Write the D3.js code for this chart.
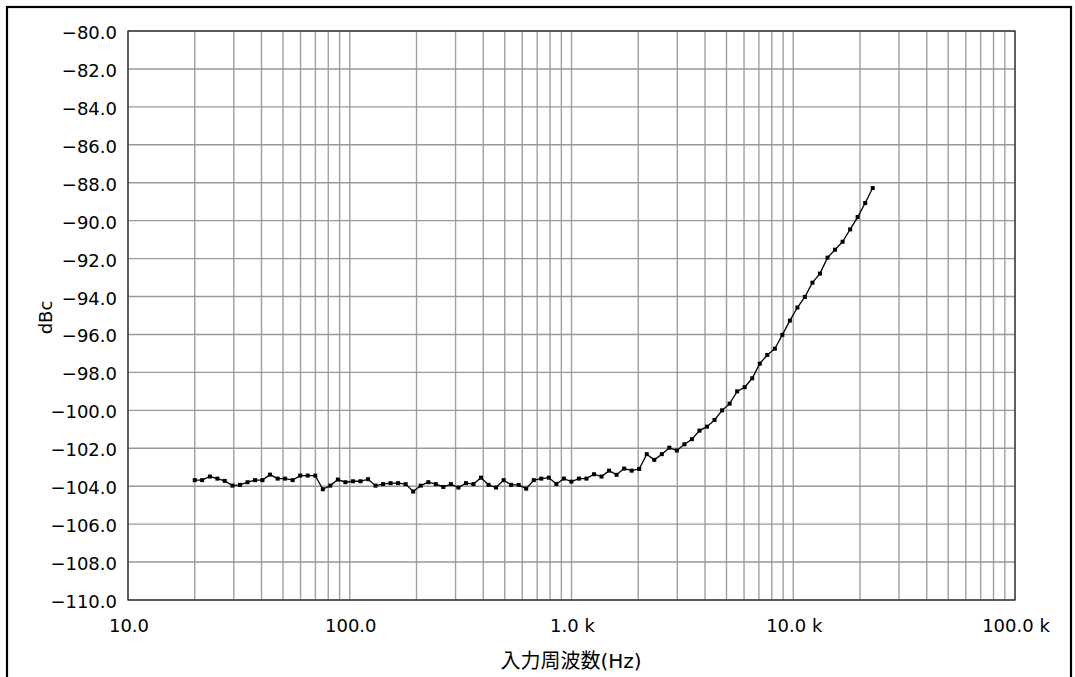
<!DOCTYPE html>
<html>
<head>
<meta charset="utf-8">
<script src="https://cdn.jsdelivr.net/npm/d3@7"></script>
<style>
  html, body { margin: 0; padding: 0; background: #fff; }
  svg { display: block; }
  text { font-family: "DejaVu Sans", "Noto Sans CJK JP", sans-serif; fill: #000; }
</style>
</head>
<body>
<script>
// input frequency (Hz)
const freqs = [
  20.0, 21.6, 23.4, 25.3, 27.3, 29.6, 32.0, 34.6, 37.4, 40.4,
  43.7, 47.3, 51.1, 55.3, 59.8, 64.6, 69.9, 75.6, 81.7, 88.4,
  95.6, 103.4, 111.8, 120.9, 130.7, 141.3, 152.8, 165.2, 178.7, 193.2,
  209.0, 226.0, 244.4, 264.3, 285.8, 309.0, 334.2, 361.3, 390.7, 422.5,
  457.0, 494.2, 534.4, 577.8, 624.8, 675.8, 730.7, 790.2, 854.5, 924.0,
  999, 1080, 1168, 1263, 1366, 1477, 1597, 1727, 1868, 2020,
  2184, 2362, 2554, 2762, 2986, 3230, 3493, 3777, 4084, 4416,
  4776, 5165, 5585, 6039, 6531, 7062, 7637, 8258, 8930, 9656,
  10438, 11287, 12205, 13198, 14272, 15436, 16692, 18050, 19518, 21106,
  22820
];

// dBc
const dbc = [
  -103.68, -103.68, -103.49, -103.60, -103.72, -103.97, -103.93, -103.79, -103.68, -103.68,
  -103.39, -103.60, -103.60, -103.68, -103.44, -103.44, -103.44, -104.16, -103.97, -103.65,
  -103.79, -103.74, -103.74, -103.63, -103.97, -103.89, -103.84, -103.84, -103.89, -104.28,
  -103.97, -103.79, -103.89, -104.04, -103.89, -104.07, -103.84, -103.89, -103.55, -103.93,
  -104.07, -103.68, -103.93, -103.93, -104.13, -103.68, -103.60, -103.55, -103.88, -103.60,
  -103.76, -103.60, -103.60, -103.37, -103.49, -103.18, -103.40, -103.07, -103.18, -103.09,
  -102.31, -102.61, -102.31, -101.97, -102.12, -101.79, -101.52, -101.07, -100.86, -100.51,
  -100.00, -99.65, -99.00, -98.78, -98.31, -97.54, -97.08, -96.75, -96.02, -95.27,
  -94.58, -94.02, -93.27, -92.79, -91.95, -91.53, -91.11, -90.46, -89.81, -89.07,
  -88.28
];

const xTicks = [10, 100, 1000, 10000, 100000];
const xTickLabels = ['10.0', '100.0', '1.0 k', '10.0 k', '100.0 k'];
const yTicks = [-80, -82, -84, -86, -88, -90, -92, -94, -96, -98, -100, -102, -104, -106, -108, -110];

const width = 1075;
const height = 677;
const margin = { top: 31, right: 60, bottom: 77, left: 128 };

const svg = d3.select('body').append('svg')
    .attr('width', width)
    .attr('height', height);

// outer frame
svg.append('rect')
    .attr('x', 7).attr('y', 7)
    .attr('width', 1064).attr('height', 690)
    .attr('fill', 'none')
    .attr('stroke', '#000')
    .attr('stroke-width', 2.2);

const x = d3.scaleLog()
    .domain([10, 100000])
    .range([margin.left, width - margin.right]);

const y = d3.scaleLinear()
    .domain([-110, -80])
    .range([height - margin.bottom, margin.top]);

// minor + major vertical grid
const vGrid = [];
for (let dec = 10; dec < 100000; dec *= 10) {
  for (let m = 1; m < 10; m++) vGrid.push(dec * m);
}
vGrid.push(100000);

svg.append('g')
  .selectAll('line')
  .data(vGrid)
  .enter().append('line')
    .attr('x1', d => x(d)).attr('x2', d => x(d))
    .attr('y1', y(-80)).attr('y2', y(-110))
    .attr('stroke', '#a0a0a0')
    .attr('stroke-width', 1.4);

svg.append('g')
  .selectAll('line')
  .data(yTicks)
  .enter().append('line')
    .attr('x1', x(10)).attr('x2', x(100000))
    .attr('y1', d => y(d)).attr('y2', d => y(d))
    .attr('stroke', '#999')
    .attr('stroke-width', 1.4);

// plot border
svg.append('rect')
    .attr('x', x(10)).attr('y', y(-80))
    .attr('width', x(100000) - x(10))
    .attr('height', y(-110) - y(-80))
    .attr('fill', 'none')
    .attr('stroke', '#222')
    .attr('stroke-width', 1.2);

// y tick labels
const fmt = d3.format('.1f');
svg.append('g')
  .selectAll('text')
  .data(yTicks)
  .enter().append('text')
    .attr('x', 117)
    .attr('y', d => y(d) + 8)
    .attr('text-anchor', 'end')
    .style('font-size', '18px')
    .text(d => fmt(d));

// x tick labels
svg.append('g')
  .selectAll('text')
  .data(xTicks)
  .enter().append('text')
    .attr('x', d => x(d) + 1)
    .attr('y', 632)
    .attr('text-anchor', 'middle')
    .style('font-size', '18px')
    .text((d, i) => xTickLabels[i]);

// axis titles
svg.append('text')
    .attr('transform', 'translate(52,' + (y(-95) + 2) + ') rotate(-90)')
    .attr('text-anchor', 'middle')
    .style('font-size', '18px')
    .text('dBc');

svg.append('text')
    .attr('x', 571)
    .attr('y', 668)
    .attr('text-anchor', 'middle')
    .style('font-size', '20px')
    .text('入力周波数(Hz)');

// data
const pts = freqs.map((f, i) => [f, dbc[i]]);

const line = d3.line()
    .x(d => x(d[0]))
    .y(d => y(d[1]));

svg.append('path')
    .datum(pts)
    .attr('d', line)
    .attr('fill', 'none')
    .attr('stroke', '#000')
    .attr('stroke-width', 1.3);

svg.append('g')
  .selectAll('rect')
  .data(pts)
  .enter().append('rect')
    .attr('x', d => x(d[0]) - 2)
    .attr('y', d => y(d[1]) - 2)
    .attr('width', 4)
    .attr('height', 4)
    .attr('fill', '#000');
</script>
</body>
</html>
